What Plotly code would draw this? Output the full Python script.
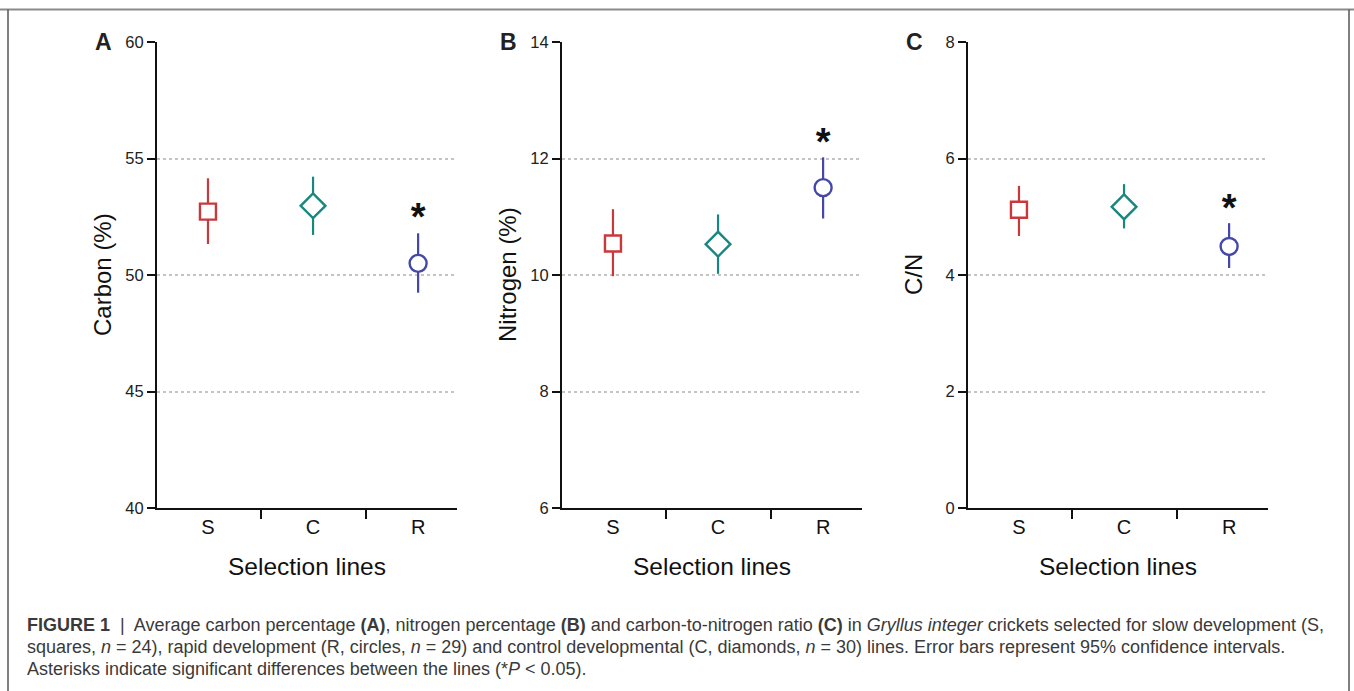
import plotly.graph_objects as go

# ---------------- data ----------------
categories = ["S", "C", "R"]
symbols = ["square", "diamond", "circle"]
colors = ["#C9393B", "#17877F", "#4548A8"]

carbon_mean = [52.72, 52.97, 50.50]
carbon_hi = [54.15, 54.22, 51.79]
carbon_lo = [51.33, 51.72, 49.24]

nitrogen_mean = [10.54, 10.53, 11.50]
nitrogen_hi = [11.13, 11.04, 12.02]
nitrogen_lo = [9.98, 10.02, 10.97]

cn_mean = [5.12, 5.17, 4.49]
cn_hi = [5.53, 5.56, 4.89]
cn_lo = [4.67, 4.80, 4.12]

# significance asterisk (category R)
star_cat = "R"
star_y = [52.35, 12.22, 5.09]

panel_letters = ["A", "B", "C"]
y_titles = ["Carbon (%)", "Nitrogen (%)", "C/N"]
y_ranges = [[40, 60], [6, 14], [0, 8]]
y_ticks = [[40, 45, 50, 55, 60], [6, 8, 10, 12, 14], [0, 2, 4, 6, 8]]
x_title = "Selection lines"

caption_lines = [
    "<b>FIGURE 1</b>  |  Average carbon percentage <b>(A)</b>, nitrogen percentage <b>(B)</b> and carbon-to-nitrogen ratio <b>(C)</b> in "
    "<i>Gryllus integer</i> crickets selected for slow development (S,",
    "squares, <i>n</i> = 24), rapid development (R, circles, <i>n</i> = 29) and control developmental (C, diamonds, <i>n</i> = 30) lines. "
    "Error bars represent 95% confidence intervals.",
    "Asterisks indicate significant differences between the lines (*<i>P</i> < 0.05).",
]

panels = [
    (carbon_mean, carbon_hi, carbon_lo),
    (nitrogen_mean, nitrogen_hi, nitrogen_lo),
    (cn_mean, cn_hi, cn_lo),
]

# ---------------- layout geometry ----------------
W, H = 1354, 691
x_left_px = [157, 562, 968]
axis_w_px = 300
y_top_px, y_bot_px = 42, 508

xpos = {c: i + 1 for i, c in enumerate(categories)}
x_range = [0.515, 3.37]

fig = go.Figure()
FONT = "Liberation Sans, Arial, sans-serif"
sizes = {"square": 16, "diamond": 19, "circle": 17}

for p, (means, his, los) in enumerate(panels):
    sfx = "" if p == 0 else str(p + 1)
    xa, ya = "x" + sfx, "y" + sfx
    for i, cat in enumerate(categories):
        fig.add_trace(go.Scatter(
            x=[xpos[cat]], y=[means[i]],
            mode="markers",
            marker=dict(symbol=symbols[i], size=sizes[symbols[i]],
                        color="white", line=dict(color=colors[i], width=2.4)),
            error_y=dict(type="data", symmetric=False,
                         array=[his[i] - means[i]], arrayminus=[means[i] - los[i]],
                         color=colors[i], thickness=2.2, width=0),
            xaxis=xa, yaxis=ya, showlegend=False, hoverinfo="skip", cliponaxis=False,
        ))
    fig.add_trace(go.Scatter(
        x=[xpos[star_cat]], y=[star_y[p]], mode="text", text=["<b>*</b>"],
        textfont=dict(size=38, color="#111111", family=FONT),
        textposition="middle center",
        xaxis=xa, yaxis=ya, showlegend=False, hoverinfo="skip", cliponaxis=False,
    ))

    x0 = x_left_px[p] / W
    x1 = (x_left_px[p] + axis_w_px) / W
    y0 = (H - y_bot_px) / H
    y1 = (H - y_top_px) / H

    lo_, hi_ = y_ranges[p]
    inner = [t for t in y_ticks[p] if lo_ < t < hi_]
    fig.update_layout({
        "xaxis" + sfx: dict(
            domain=[x0, x1], range=x_range, anchor=ya,
            tickvals=[xpos[c] for c in categories], ticktext=categories,
            ticks="", showgrid=False, zeroline=False,
            showline=True, linecolor="#111111", linewidth=2,
            tickfont=dict(size=20, color="#111111", family=FONT),
            minor=dict(tickvals=[1.5, 2.5], ticks="outside", ticklen=9,
                       tickwidth=2, tickcolor="#111111", showgrid=False),
            fixedrange=True, automargin=False,
        ),
        "yaxis" + sfx: dict(
            domain=[y0, y1], range=y_ranges[p], anchor=xa,
            tickvals=y_ticks[p], ticks="outside", ticklen=8, tickwidth=2,
            tickcolor="#111111", showgrid=False, zeroline=False,
            showline=True, linecolor="#111111", linewidth=2,
            tickfont=dict(size=16.5, color="#222222", family=FONT),
            minor=dict(tickvals=inner, ticks="", showgrid=True,
                       gridcolor="#C4C4C4", griddash="dot", gridwidth=1.6),
            fixedrange=True, automargin=False,
        ),
    })

    # panel letter
    fig.add_annotation(x=(x_left_px[p] - 54) / W, y=1 - 42 / H, xref="paper", yref="paper",
                       text="<b>" + panel_letters[p] + "</b>", showarrow=False,
                       font=dict(size=23, color="#222222", family=FONT),
                       xanchor="center", yanchor="middle")
    # y title
    fig.add_annotation(x=(x_left_px[p] - 55) / W, y=1 - 275 / H, xref="paper", yref="paper",
                       text=y_titles[p], textangle=-90, showarrow=False,
                       font=dict(size=24, color="#111111", family=FONT),
                       xanchor="center", yanchor="middle")
    # x title
    fig.add_annotation(x=(x_left_px[p] + axis_w_px / 2) / W, y=1 - 566 / H,
                       xref="paper", yref="paper", text=x_title, showarrow=False,
                       font=dict(size=24.5, color="#111111", family=FONT),
                       xanchor="center", yanchor="middle")

# caption
for k, line in enumerate(caption_lines):
    fig.add_annotation(x=25 / W, y=1 - (625 + 22 * k) / H, xref="paper", yref="paper",
                       text=line, showarrow=False, align="left",
                       font=dict(size=18, color="#3a3a3a", family=FONT),
                       xanchor="left", yanchor="middle")

# frame
fig.add_shape(type="line", xref="paper", yref="paper", x0=0, x1=1, y0=1 - 9.5 / H, y1=1 - 9.5 / H,
              line=dict(color="#8a8a8a", width=2))
fig.add_shape(type="line", xref="paper", yref="paper", x0=8 / W, x1=8 / W, y0=0, y1=1 - 9.5 / H,
              line=dict(color="#555555", width=1.5))
fig.add_shape(type="line", xref="paper", yref="paper", x0=1349 / W, x1=1349 / W, y0=0, y1=1 - 9.5 / H,
              line=dict(color="#555555", width=1.5))

fig.update_layout(
    width=W, height=H, margin=dict(l=0, r=0, t=0, b=0, pad=0, autoexpand=False),
    paper_bgcolor="white", plot_bgcolor="white",
    font=dict(family=FONT),
)

fig.write_html("out.html", config={"displayModeBar": False})
